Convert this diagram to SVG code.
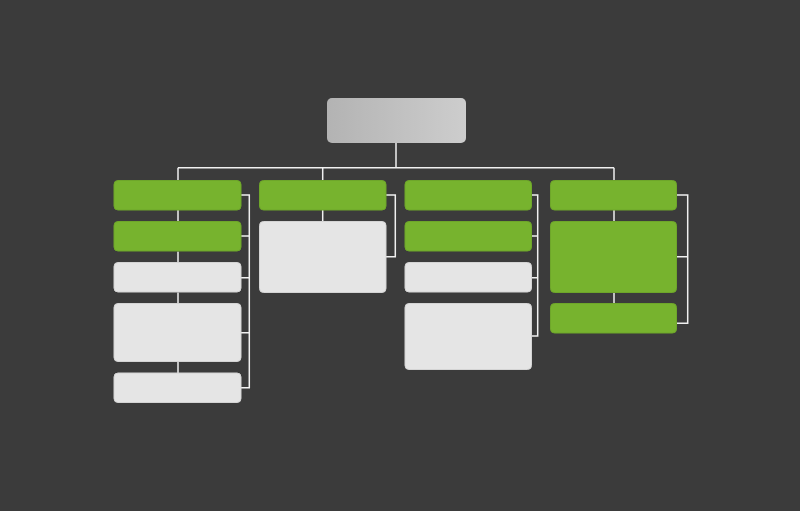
<svg xmlns="http://www.w3.org/2000/svg" width="800" height="511" viewBox="0 0 800 511">
<defs>
<linearGradient id="topg" x1="0" y1="0" x2="1" y2="0">
<stop offset="0" stop-color="#b3b3b3"/>
<stop offset="1" stop-color="#cdcdcd"/>
</linearGradient>
<style>
.g{fill:#77b32e;stroke:#6ea62a;stroke-width:1}
.w{fill:#e5e5e5;stroke:#d4d4d4;stroke-width:1}
.c{fill:none;stroke:#f0f0f0;stroke-width:1.5}
</style>
</defs>
<rect width="800" height="511" fill="#3b3b3b"/>
<g id="connectors">
<path class="c" d="M396 143V167.7M178 167.7H614M178 167.7V180M322.7 167.7V180M614 167.7V180"/>
<path class="c" d="M178 210V221.5M178 251.5V262.5M178 292.5V303.5M178 361.5V373"/>
<path class="c" d="M322.7 210V221.5"/>
<path class="c" d="M614 210V221.5M614 292.5V303.5"/>
<path class="c" d="M241 195H249.3V387.7H241M241 236H249.3M241 277.7H249.3M241 332.7H249.3"/>
<path class="c" d="M386 195H395.3V256.7H386"/>
<path class="c" d="M531.7 195H537.7V336H531.7M531.7 236H537.7M531.7 277.7H537.7"/>
<path class="c" d="M676.7 195H687.7V323.3H676.7M676.7 256.7H687.7"/>
</g>
<g id="root"><rect x="327" y="98" width="139" height="45" rx="5" fill="url(#topg)"/></g>
<g id="c1n1"><rect class="g" x="114" y="180.5" width="127" height="29.5" rx="4"/></g>
<g id="c1n2"><rect class="g" x="114" y="221.5" width="127" height="29.5" rx="4"/></g>
<g id="c1n3"><rect class="w" x="114" y="262.5" width="127" height="29.5" rx="4"/></g>
<g id="c1n4"><rect class="w" x="114" y="303.5" width="127" height="58" rx="4"/></g>
<g id="c1n5"><rect class="w" x="114" y="373" width="127" height="29.5" rx="4"/></g>
<g id="c2n1"><rect class="g" x="259.5" y="180.5" width="126.5" height="29.5" rx="4"/></g>
<g id="c2n2"><rect class="w" x="259.5" y="221.5" width="126.5" height="71" rx="4"/></g>
<g id="c3n1"><rect class="g" x="405" y="180.5" width="126.5" height="29.5" rx="4"/></g>
<g id="c3n2"><rect class="g" x="405" y="221.5" width="126.5" height="29.5" rx="4"/></g>
<g id="c3n3"><rect class="w" x="405" y="262.5" width="126.5" height="29.5" rx="4"/></g>
<g id="c3n4"><rect class="w" x="405" y="303.5" width="126.5" height="66" rx="4"/></g>
<g id="c4n1"><rect class="g" x="550.5" y="180.5" width="126" height="29.5" rx="4"/></g>
<g id="c4n2"><rect class="g" x="550.5" y="221.5" width="126" height="71" rx="4"/></g>
<g id="c4n3"><rect class="g" x="550.5" y="303.5" width="126" height="29.5" rx="4"/></g>
</svg>
